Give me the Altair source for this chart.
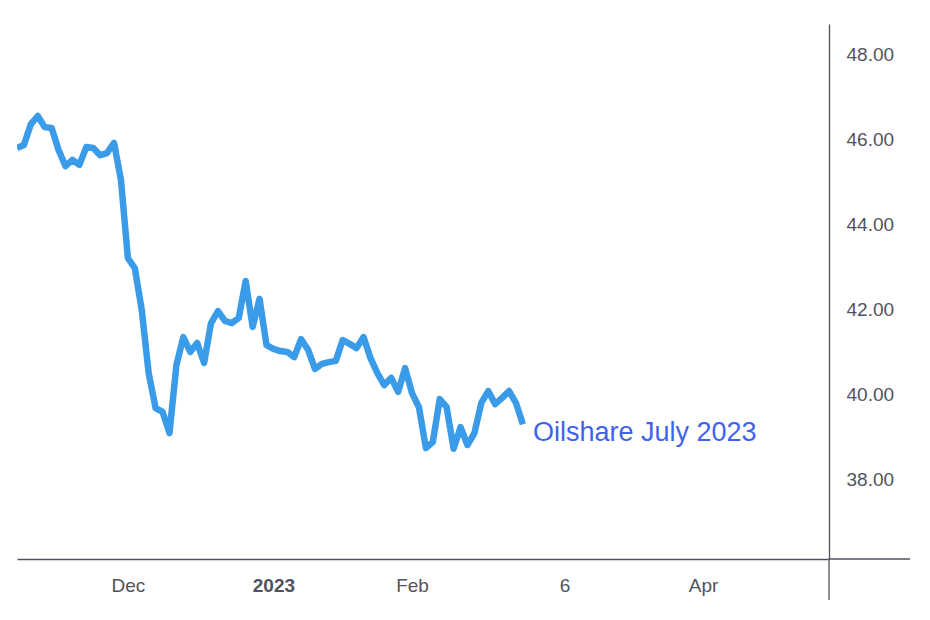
import altair as alt
import pandas as pd

# Oilshare July 2023 price, one value per trading bar
bar = list(range(74))
price = [45.79, 45.86, 46.35, 46.54, 46.28, 46.26, 45.74, 45.36, 45.51, 45.39,
         45.81, 45.79, 45.62, 45.67, 45.91, 45.04, 43.20, 42.96, 41.98, 40.49,
         39.67, 39.58, 39.08, 40.68, 41.34, 40.99, 41.20, 40.73, 41.67, 41.95,
         41.72, 41.67, 41.79, 42.66, 41.58, 42.24, 41.15, 41.06, 41.01, 40.99,
         40.87, 41.29, 41.04, 40.59, 40.71, 40.75, 40.78, 41.27, 41.18, 41.08,
         41.34, 40.85, 40.49, 40.21, 40.38, 40.05, 40.61, 40.02, 39.69, 38.73,
         38.87, 39.88, 39.69, 38.71, 39.22, 38.80, 39.08, 39.79, 40.07, 39.76,
         39.91, 40.07, 39.79, 39.29]

tick_bars = [16, 37, 57, 79, 99]
tick_labels = ["Dec", "2023", "Feb", "6", "Apr"]
y_ticks = [38, 40, 42, 44, 46, 48]
series_name = "Oilshare July 2023"

df = pd.DataFrame({"bar": bar, "price": price})
last = df.tail(1).assign(name=series_name)

label_expr = " : ".join(
    f"datum.value == {b} ? '{l}'" for b, l in zip(tick_bars, tick_labels)
) + " : ''"

W, H = 812, 535
AXIS = "#50535e"

x = alt.X(
    "bar:Q",
    scale=alt.Scale(domain=[0, 117.17], nice=False, zero=False),
    axis=alt.Axis(
        values=tick_bars, labelExpr=label_expr, title=None, grid=False,
        ticks=False, tickSize=0, domainColor=AXIS, domainWidth=1.3,
        labelColor=AXIS, labelFontSize=19, labelFont="Liberation Sans",
        labelPadding=17, labelFlush=False, labelOverlap=False,
        labelFontWeight={"condition": {"test": "datum.value == 37", "value": "bold"},
                         "value": "normal"},
    ),
)
y = alt.Y(
    "price:Q",
    scale=alt.Scale(domain=[36.118, 48.706], nice=False, zero=False),
    axis=alt.Axis(
        orient="right", values=y_ticks, format=".2f", title=None, grid=False,
        ticks=False, tickSize=0, domainColor=AXIS, domainWidth=1.3,
        labelColor=AXIS, labelFontSize=19, labelFont="Liberation Sans",
        labelPadding=17,
    ),
)

line = alt.Chart(df).mark_line(
    color="#3a9be9", strokeWidth=6.5, strokeJoin="round", strokeCap="butt", clip=True
).encode(x=x, y=y)

text = alt.Chart(last).mark_text(
    align="left", baseline="middle", dx=10, dy=9, fontSize=27,
    font="Liberation Sans", color="#3f63ee"
).encode(x="bar:Q", y="price:Q", text="name:N")

hline_ext = alt.Chart(last).mark_rule(color=AXIS, strokeWidth=1.3).encode(
    x=alt.value(W), x2=alt.value(W + 81), y=alt.value(H)
)
vline_ext = alt.Chart(last).mark_rule(color=AXIS, strokeWidth=1.3).encode(
    x=alt.value(W), y=alt.value(H), y2=alt.value(H + 41)
)

chart = alt.layer(line, text, hline_ext, vline_ext).properties(
    width=W, height=H,
    background="white",
    autosize=alt.AutoSizeParams(type="none"),
    padding={"left": 9, "top": 16, "right": 93, "bottom": 45},
).configure_view(strokeWidth=0, stroke=None)

chart.save("out.html", embed_options={"renderer": "svg", "actions": False})
